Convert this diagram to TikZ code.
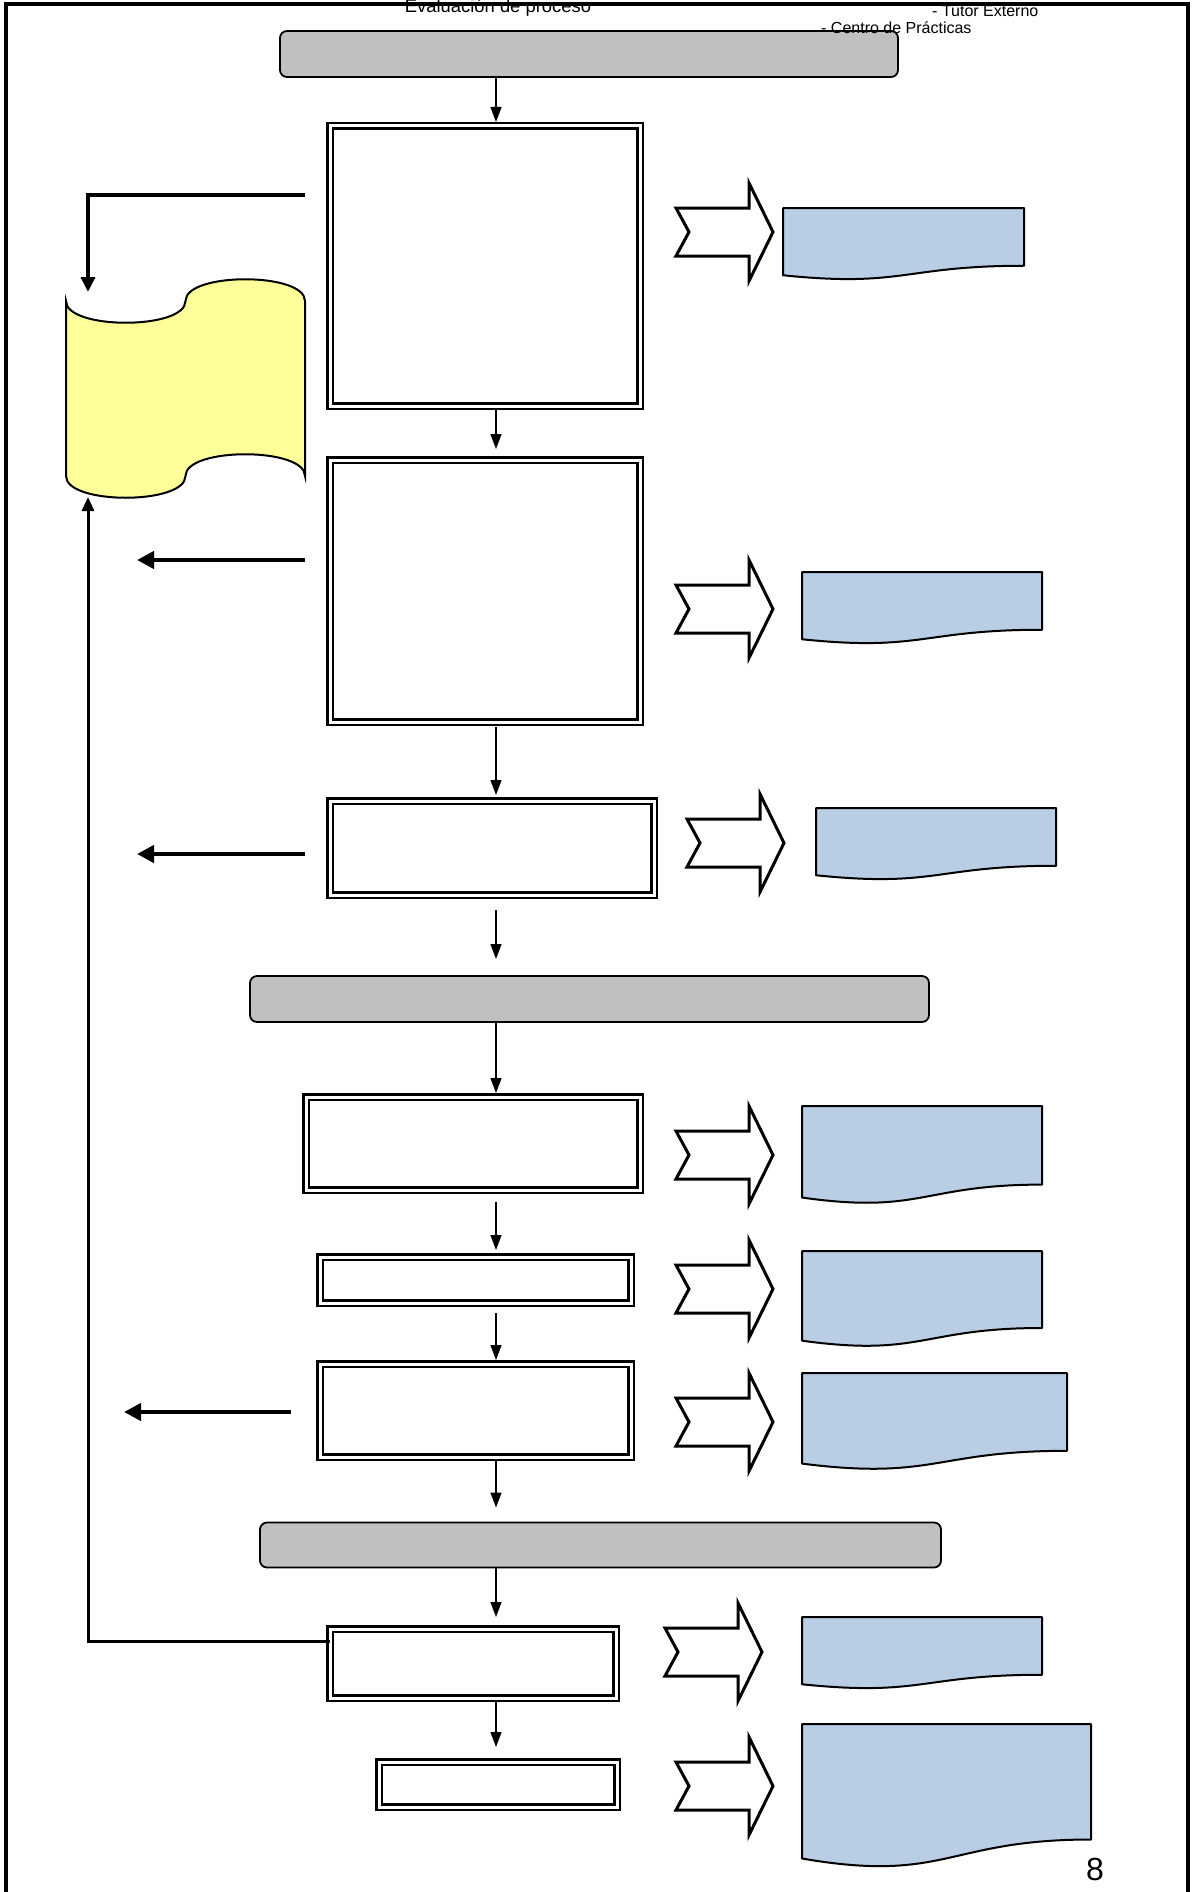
\documentclass[tikz,border=0pt]{standalone}
\usepackage{fontspec}
\setmainfont{Liberation Sans}
\usetikzlibrary{arrows.meta}
\definecolor{bargray}{RGB}{192,192,192}
\definecolor{docblue}{RGB}{185,205,229}
\definecolor{tapeyellow}{RGB}{255,255,153}
\tikzset{
    stage/.style={
        draw,
        fill=bargray,
        rounded corners=7pt,
        line width=1.8pt,
        inner sep=0pt, outer sep=0pt},
    task/.style={
        draw,
        double=white,
        double distance=3pt,
        line width=2.5pt,
        inner sep=0pt, outer sep=0pt},
    flowarrow/.style={
        line width=1.3pt,
        -{Triangle[length=15pt,width=11pt]}},
    sendback/.style={
        line width=4.5pt,
        -{Triangle[length=17pt,width=17pt]}},
    tapein/.style={
        line width=3.8pt,
        -{Triangle[length=15pt,width=14pt]}},
    feedback/.style={
        line width=3pt,
        -{Triangle[length=14pt,width=12pt]}},
    docshape/.style={
        draw,
        fill=docblue,
        line width=2pt,
        line join=round},
    fatline/.style={
        draw,
        fill=white,
        line width=3pt,
        line join=miter}}
% document shape: left x, top y, width, height
\newcommand{\outdoc}[4]{%
    \draw[docshape] (#1,#2) -- ({#1+#3},#2) -- ({#1+#3},{#2+0.802*#4})
        .. controls ({#1+0.5*#3},{#2+0.802*#4}) and ({#1+0.5*#3},{#2+1.107*#4}) ..
        (#1,{#2+0.934*#4}) -- cycle;}
% notched block arrow: tail x, centre y
\newcommand{\fatarrow}[2]{%
    \draw[fatline] (#1,{#2-24}) -- ({#1+73},{#2-24}) -- ({#1+73},{#2-49})
        -- ({#1+97},#2) -- ({#1+73},{#2+49}) -- ({#1+73},{#2+24})
        -- (#1,{#2+24}) -- ({#1+13},#2) -- cycle;}

\begin{document}
\begin{tikzpicture}[x=1pt,y=-1pt]
        \useasboundingbox (0,0) rectangle (1192,1892);
        \coordinate (spine) at (496,0);

        \node[anchor=base,inner sep=0pt] (evaltxt) at (498,13) {\fontsize{18.4}{22}\selectfont Evaluación de proceso};
        \node[anchor=base west,inner sep=0pt] (tutortxt) at (932,17) {\fontsize{16}{19}\selectfont - Tutor Externo};

        % stages and tasks
        \node[stage,minimum width=618pt,minimum height=46pt] (bar1) at (589,54) {};
        \node[anchor=base west,inner sep=0pt] (centrotxt) at (821,34) {\fontsize{16}{19}\selectfont - Centro de Prácticas};
        \node[task,minimum width=310pt,minimum height=280pt] (box1) at (485,266) {};
        \node[task,minimum width=310pt,minimum height=262pt] (box2) at (485,591) {};
        \node[task,minimum width=324pt,minimum height=94pt] (box3) at (492,848) {};
        \node[stage,minimum width=679pt,minimum height=46pt] (bar2) at (589.5,999) {};
        \node[task,minimum width=334pt,minimum height=93pt] (box4) at (473,1143.5) {};
        \node[task,minimum width=311pt,minimum height=46pt] (box5) at (475.5,1280) {};
        \node[task,minimum width=311pt,minimum height=93pt] (box6) at (475.5,1410.5) {};
        \node[stage,minimum width=681pt,minimum height=45pt] (bar3) at (600.5,1545) {};
        \node[task,minimum width=286pt,minimum height=69pt] (box7) at (473,1663.5) {};
        \node[task,minimum width=238pt,minimum height=45pt] (box8) at (498,1784.5) {};

        \draw[flowarrow,shorten >=4pt] (bar1.south -| spine) -- (box1.north -| spine);
        \draw[flowarrow,shorten <=4pt,shorten >=11pt] (box1.south -| spine) -- (box2.north -| spine);
        \draw[flowarrow,shorten <=5pt,shorten >=6pt] (box2.south -| spine) -- (box3.north -| spine);
        \draw[flowarrow,shorten <=15pt,shorten >=17pt] (box3.south -| spine) -- (bar2.north -| spine);
        \draw[flowarrow,shorten >=4pt] (bar2.south -| spine) -- (box4.north -| spine);
        \draw[flowarrow,shorten <=12pt,shorten >=7pt] (box4.south -| spine) -- (box5.north -| spine);
        \draw[flowarrow,shorten <=10pt,shorten >=4pt] (box5.south -| spine) -- (box6.north -| spine);
        \draw[flowarrow,shorten <=4pt,shorten >=15pt] (box6.south -| spine) -- (bar3.north -| spine);
        \draw[flowarrow,shorten >=12pt] (bar3.south -| spine) -- (box7.north -| spine);
        \draw[flowarrow,shorten <=4pt,shorten >=15pt] (box7.south -| spine) -- (box8.north -| spine);

        % punched tape store
        \draw[fill=tapeyellow,line width=2pt]
            (66,301) .. controls (66,330) and (185.5,330) .. (185.5,301)
            .. controls (185.5,272) and (305,272) .. (305,301)
            -- (305,476) .. controls (305,447) and (185.5,447) .. (185.5,476)
            .. controls (185.5,505) and (66,505) .. (66,476) -- cycle;
        \coordinate (tapetop) at (88,292);
        \coordinate (tapebot) at (88,497);
        \coordinate (tl) at (88,195);
        \coordinate (fb) at (88,1641);
        \coordinate (r2) at (137,560);
        \coordinate (r3) at (137,854);
        \coordinate (r6) at (124,1412);

        \draw[tapein,shorten <=25pt] (box1.west |- tl) -- (tl) -- (tapetop);
        \draw[sendback,shorten <=25pt] (box2.west |- r2) -- (r2);
        \draw[sendback,shorten <=25pt] (box3.west |- r3) -- (r3);
        \draw[sendback,shorten <=29pt] (box6.west |- r6) -- (r6);
        \draw[feedback] (box7.west |- fb) -- (fb) -- (tapebot);

        % outputs
        \fatarrow{676}{232}
        \outdoc{783}{208}{241}{72}
        \fatarrow{676}{609}
        \outdoc{802}{572}{240}{72}
        \fatarrow{687}{843}
        \outdoc{816}{808}{240}{72}
        \fatarrow{676}{1155}
        \outdoc{802}{1106}{240}{98}
        \fatarrow{676}{1289}
        \outdoc{802}{1251}{240}{96}
        \fatarrow{676}{1422}
        \outdoc{802}{1373}{265}{97}
        \fatarrow{665}{1652}
        \outdoc{802}{1617}{240}{72}
        \fatarrow{676}{1786}
        \outdoc{802}{1724}{289}{144}

        \node[anchor=base,inner sep=0pt] (pagenum) at (1095,1880) {\fontsize{32}{38}\selectfont 8};

        % page frame
        \draw[line width=4pt] (6,1900) -- (6,4.5) -- (1188,4.5) -- (1188,1900);
    \end{tikzpicture}
\end{document}
